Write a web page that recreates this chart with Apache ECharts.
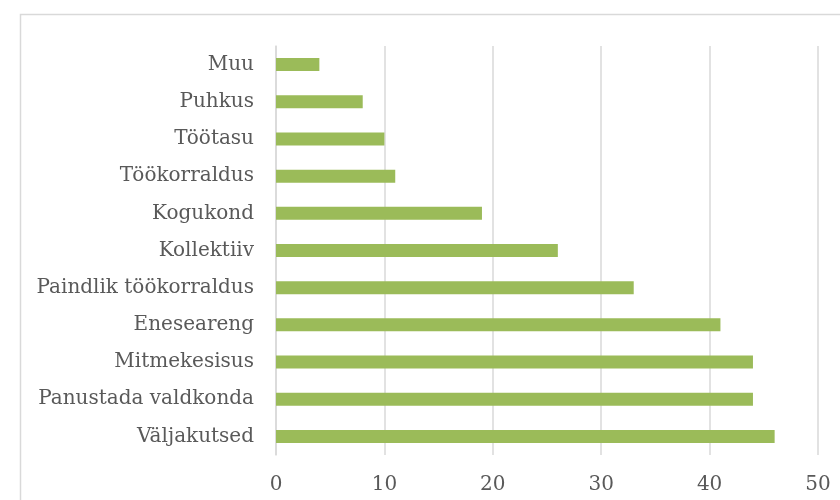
<!DOCTYPE html>
<html>
<head>
<meta charset="utf-8">
<script src="https://cdn.jsdelivr.net/npm/echarts@6/dist/echarts.min.js"></script>
<style>
  html, body { margin: 0; padding: 0; background: #fff; }
  #chart { width: 840px; height: 500px; }
</style>
</head>
<body>
<div id="chart"></div>
<script>
// categories top to bottom
const categories = [
  'Muu', 'Puhkus', 'Töötasu', 'Töökorraldus', 'Kogukond', 'Kollektiiv',
  'Paindlik töökorraldus', 'Eneseareng', 'Mitmekesisus', 'Panustada valdkonda', 'Väljakutsed'
]
const values = [4, 8, 10, 11, 19, 26, 33, 41, 44, 44, 46]

const labelColor = '#595959'
const lineColor = '#d9d9d9'
const fontFamily = '"DejaVu Serif", serif'

const chart = echarts.init(document.getElementById('chart'))
chart.setOption({
  animation: false,
  graphic: [
    {
      type: 'rect',
      left: 18,
      top: 12,
      shape: { width: 900, height: 600 },
      style: { fill: 'none', stroke: lineColor, lineWidth: 1.5 },
      silent: true
    }
  ],
  grid: { left: 276, right: 22, top: 46, bottom: 45 },
  xAxis: {
    type: 'value',
    min: 0,
    max: 50,
    interval: 10,
    axisLine: { show: false },
    axisTick: { show: false },
    axisLabel: { color: labelColor, fontSize: 20, fontFamily, margin: 20 },
    splitLine: { lineStyle: { color: lineColor, width: 1.5 } }
  },
  yAxis: {
    type: 'category',
    inverse: true,
    data: categories,
    axisLine: { lineStyle: { color: lineColor, width: 1.5 } },
    axisTick: { show: false },
    axisLabel: { color: labelColor, fontSize: 20, fontFamily, margin: 22 }
  },
  series: [
    {
      type: 'bar',
      data: values,
      barWidth: 13,
      itemStyle: { color: '#9bbb59' }
    }
  ]
})
</script>
</body>
</html>
